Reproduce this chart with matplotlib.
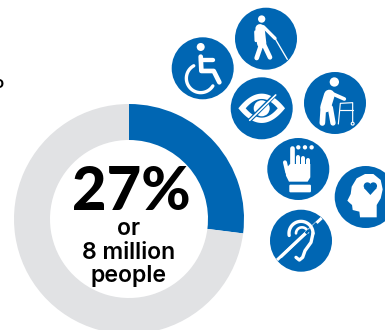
import numpy as np
import matplotlib
matplotlib.use("Agg")
import matplotlib.pyplot as plt
from matplotlib.patches import Circle, Polygon, FancyBboxPatch

share_labels = ["with a disability", "without a disability"]
share_values = [27, 73]
headline = "27%"
sub_lines = ["or", "8 million", "people"]

BLUE = "#0066b3"
GREY = "#e1e2e4"
WHITE = "white"

plt.rcParams["font.family"] = ["Inter", "DejaVu Sans"]

fig = plt.figure(figsize=(3.85, 3.3), dpi=100)
ax = fig.add_axes([0, 0, 1, 1])

# Ring: y axis points down, so angles run clockwise on screen
ax.pie(share_values, colors=[BLUE, GREY], center=(129, 219), radius=115,
       startangle=-90, counterclock=True, wedgeprops=dict(width=36, linewidth=0))

ax.set_xlim(0, 385)
ax.set_ylim(330, 0)
ax.set_aspect("equal")
ax.axis("off")

ax.text(131.5, 210, headline, fontsize=43, fontweight="black", ha="center", va="baseline",
        family=["Lato", "DejaVu Sans"])
for line, y in zip(sub_lines, [235, 259, 282]):
    ax.text(129, y, line, fontsize=16.6, fontweight="semibold", ha="center", va="baseline")

# Tail of a word cut off by the left edge
ax.text(4, 84, "o", fontsize=12, ha="right", va="center", fontweight="semibold")


# Icon helpers: shapes are given in thirds of a pixel around the badge centre
def stroke(c, pts, lw, color=WHITE, cap="round", z=3):
    pts = np.array(pts, dtype=float) / 3 + c
    ax.plot(pts[:, 0], pts[:, 1], color=color, lw=lw / 3 * 0.72,
            solid_capstyle=cap, solid_joinstyle="round", zorder=z)


def dot(c, x, y, r, color=WHITE, z=3):
    ax.add_patch(Circle((c[0] + x / 3, c[1] + y / 3), r / 3, fc=color, ec="none", zorder=z))


def shape(c, pts, color=WHITE, z=3):
    pts = np.array(pts, dtype=float) / 3 + c
    ax.add_patch(Polygon(pts, closed=True, fc=color, ec="none", zorder=z))


def arc(c, x, y, r, a0, a1, lw, z=3):
    t = np.radians(np.linspace(a0, a1, 60))
    stroke(c, np.c_[x + r * np.cos(t), y + r * np.sin(t)], lw, z=z)


def badge(x, y):
    ax.add_patch(Circle((x, y), 31, fc=BLUE, ec="none", zorder=2))
    return np.array([x, y])


def wheelchair(c):
    dot(c, -6, -64, 12)
    stroke(c, [(-6, -35), (-4, 8), (33, 8), (50, 42)], 14)
    stroke(c, [(-4, -25), (32, -25)], 13)
    arc(c, -6, 30, 43, 241, 32, 10)


def cane_user(c):
    dot(c, -13, -59, 11)
    stroke(c, [(-18, -30), (-13, 14)], 28)
    stroke(c, [(-13, 14), (-28, 58)], 14)
    stroke(c, [(-8, 14), (12, 56)], 14)
    stroke(c, [(-8, -36), (27, -1)], 10)
    stroke(c, [(-31, -21), (-30, 6)], 9)
    stroke(c, [(27, -1), (64, 62)], 4)


def crossed_eye(c):
    x = np.linspace(-70, 70, 80)
    top = -44 * (1 - (x / 70) ** 2)
    shape(c, np.r_[np.c_[x, top], np.c_[x[::-1], -top[::-1]]])
    x = np.linspace(-48, 48, 80)
    top = -28 * (1 - (x / 48) ** 2)
    shape(c, np.r_[np.c_[x, top], np.c_[x[::-1], -top[::-1]]], color=BLUE)
    dot(c, 0, 0, 24)
    stroke(c, [(46, -46), (-44, 44)], 12, color=BLUE, cap="butt")
    stroke(c, [(42, -40), (-36, 36)], 5)


def walker_user(c):
    dot(c, -2, -63, 14)
    stroke(c, [(-17, -24), (-28, 12)], 32)
    stroke(c, [(-8, -28), (28, -12)], 11)
    stroke(c, [(-35, 14), (-38, 60)], 17)
    stroke(c, [(-14, 14), (-6, 60)], 16)
    stroke(c, [(10, 63), (16, 1), (53, -1), (53, 56)], 3.5)
    stroke(c, [(15, 21), (53, 21)], 3.5)
    dot(c, 53, 62, 6)
    dot(c, 53, 62, 2.5, color=BLUE, z=4)


def touch_hand(c):
    for x in (0, 20, 40):
        dot(c, x, -65, 6.5)
    stroke(c, [(-18, -62), (-18, -10)], 14)
    for x, top in ((-2, -36), (13, -32), (28, -26)):
        stroke(c, [(x, top), (x, -5)], 12)
    stroke(c, [(-40, -20), (-33, 10)], 12)
    shape(c, [(-38, 0), (-25, -15), (36, -15), (36, 25), (28, 38), (-28, 38), (-37, 20)])
    ax.add_patch(FancyBboxPatch((c[0] - 27 / 3, c[1] + 47 / 3), 65 / 3, 23 / 3,
                                boxstyle="round,pad=0,rounding_size=1.2",
                                fc=WHITE, ec="none", zorder=3))


def heart_head(c):
    shape(c, [(-55, 11), (-45, -9), (-42, -31), (-27, -56), (-2, -69), (23, -69),
              (45, -51), (51, -23), (45, 4), (33, 24), (33, 61), (-17, 61),
              (-19, 44), (-39, 39), (-41, 24), (-49, 17)])
    dot(c, 5, -33, 11, color=BLUE, z=4)
    dot(c, 23, -33, 11, color=BLUE, z=4)
    shape(c, [(-5, -27), (33, -27), (14, -6)], color=BLUE, z=4)


def crossed_ear(c):
    stroke(c, [(-72, 58), (62, -68)], 9, cap="butt")
    stroke(c, [(20, -20), (50, -50)], 16, color=BLUE, cap="butt")
    arc(c, 0, -22, 36, 170, 360, 10, z=4)
    t = np.array([(36, -22), (30, 5), (12, 30), (5, 50), (-5, 58), (-15, 50)])
    stroke(c, t, 10, z=4)
    arc(c, 3, -22, 18, 180, 350, 8, z=4)
    stroke(c, [(-60, 48), (14, -22)], 9, z=5)
    stroke(c, [(14, -22), (24, -32)], 8, color=BLUE, cap="butt", z=5)


wheelchair(badge(202.7, 68.3))
cane_user(badge(266, 38.7))
crossed_eye(badge(261.7, 108.3))
walker_user(badge(335, 103))
touch_hand(badge(298.3, 169))
heart_head(badge(365.7, 197))
crossed_ear(badge(301, 240.7))

fig.savefig("out.png", dpi=100)
